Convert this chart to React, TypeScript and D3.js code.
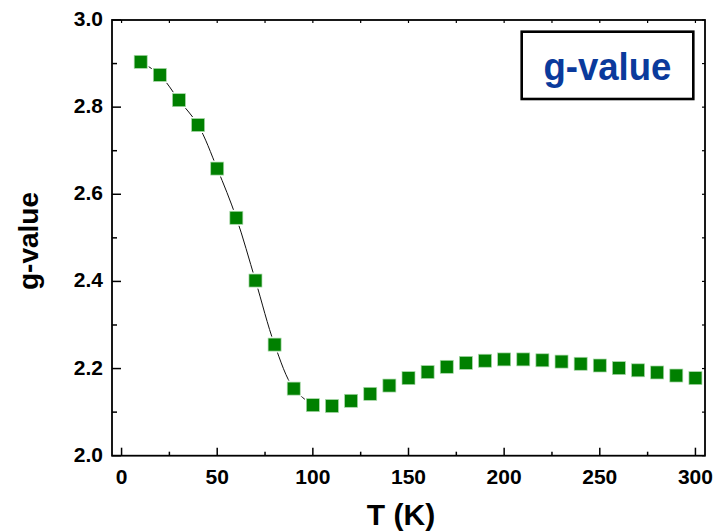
import React from "react";
import * as d3 from "d3";

const temps: number[] = [10, 20, 30, 40, 50, 60, 70, 80, 90, 100, 110, 120, 130, 140, 150, 160, 170, 180, 190, 200, 210, 220, 230, 240, 250, 260, 270, 280, 290, 300];
const gValues: number[] = [2.904, 2.874, 2.816, 2.759, 2.659, 2.546, 2.402, 2.255, 2.154, 2.116, 2.114, 2.126, 2.142, 2.161, 2.178, 2.192, 2.204, 2.213, 2.218, 2.221, 2.221, 2.219, 2.216, 2.211, 2.207, 2.201, 2.196, 2.191, 2.184, 2.178];
const lineCount = 10; // connecting line spans the first points only
const xTickLabels: number[] = [0, 50, 100, 150, 200, 250, 300];
const xMinorTicks: number[] = [25, 75, 125, 175, 225, 275];
const yTickLabels: number[] = [2.0, 2.2, 2.4, 2.6, 2.8, 3.0];
const yMinorTicks: number[] = [2.1, 2.3, 2.5, 2.7, 2.9];
const legendLabel = "g-value";
const xTitle = "T (K)";
const yTitle = "g-value";

const W = 720;
const H = 532;
const L = 112, R = 705, T = 20, B = 455.7;
const FONT = "'Liberation Sans', Arial, Helvetica, sans-serif";

export default function App() {
  const x = d3.scaleLinear().domain([-5, 305]).range([L, R]);
  const y = d3.scaleLinear().domain([2.0, 3.0]).range([B, T]);
  const pts = temps.map((t, i) => ({ t, g: gValues[i] }));
  const line = d3
    .line<{ t: number; g: number }>()
    .x((d) => x(d.t))
    .y((d) => y(d.g))
    .curve(d3.curveCatmullRom.alpha(0.5));
  const linePath = line(pts.slice(0, lineCount)) || "";
  const allXTicks = [...xTickLabels, ...xMinorTicks];
  const allYTicks = [...yTickLabels, ...yMinorTicks];
  const ms = 13;
  const halo = 16;

  return (
    <svg
      width={W}
      height={H}
      style={{ position: "absolute", left: 0, top: 0, background: "#fff" }}
      fontFamily={FONT}
    >
      <rect x={0} y={0} width={W} height={H} fill="#fff" />
      {/* data line */}
      <path d={linePath} fill="none" stroke="#111" strokeWidth={1} />
      {/* markers */}
      {pts.map((d, i) => (
        <g key={i}>
          <rect x={x(d.t) - halo / 2} y={y(d.g) - halo / 2} width={halo} height={halo} fill="#fff" />
          <rect
            x={x(d.t) - ms / 2}
            y={y(d.g) - ms / 2}
            width={ms}
            height={ms}
            fill="#008000"
            stroke="#a8d8a8"
            strokeWidth={0.7}
          />
        </g>
      ))}
      {/* frame */}
      <rect x={L} y={T} width={R - L} height={B - T} fill="none" stroke="#000" strokeWidth={1.8} />
      {/* bottom ticks */}
      {xTickLabels.map((v) => (
        <line key={"xb" + v} x1={x(v)} x2={x(v)} y1={B} y2={B - 8} stroke="#000" strokeWidth={1.5} />
      ))}
      {xMinorTicks.map((v) => (
        <line key={"xm" + v} x1={x(v)} x2={x(v)} y1={B} y2={B - 4} stroke="#000" strokeWidth={1.5} />
      ))}
      {/* top ticks */}
      {allXTicks.map((v) => (
        <line key={"xt" + v} x1={x(v)} x2={x(v)} y1={T} y2={T + 3} stroke="#000" strokeWidth={1.2} />
      ))}
      {/* left ticks */}
      {yTickLabels.map((v) => (
        <line key={"yl" + v} x1={L} x2={L + 9} y1={y(v)} y2={y(v)} stroke="#000" strokeWidth={1.5} />
      ))}
      {yMinorTicks.map((v) => (
        <line key={"ym" + v} x1={L} x2={L + 5} y1={y(v)} y2={y(v)} stroke="#000" strokeWidth={1.5} />
      ))}
      {/* right ticks */}
      {allYTicks.map((v) => (
        <line key={"yr" + v} x1={R} x2={R - 3} y1={y(v)} y2={y(v)} stroke="#000" strokeWidth={1.2} />
      ))}
      {/* x labels */}
      {xTickLabels.map((v) => (
        <text key={"xl" + v} x={x(v)} y={B + 28.3} textAnchor="middle" fontSize={21} fontWeight="bold" fill="#000">
          {v}
        </text>
      ))}
      {/* y labels */}
      {yTickLabels.map((v) => (
        <text key={"ylb" + v} x={103} y={y(v) + 6} textAnchor="end" fontSize={21} fontWeight="bold" fill="#000">
          {v.toFixed(1)}
        </text>
      ))}
      {/* axis titles */}
      <text x={401} y={525} textAnchor="middle" fontSize={30} fontWeight="bold" fill="#000">
        {xTitle}
      </text>
      <text
        transform={`translate(38,241) rotate(-90)`}
        textAnchor="middle"
        fontSize={28}
        fontWeight="bold"
        fill="#000"
      >
        {yTitle}
      </text>
      {/* legend box */}
      <rect x={521.7} y={31.7} width={171.6} height={67.3} fill="#fff" stroke="#000" strokeWidth={2.6} />
      <text
        x={607.4}
        y={80}
        textAnchor="middle"
        fontSize={38}
        fontWeight="bold"
        fill="#0a3a9c"
        textLength={128}
        lengthAdjust="spacingAndGlyphs"
      >
        {legendLabel}
      </text>
    </svg>
  );
}
